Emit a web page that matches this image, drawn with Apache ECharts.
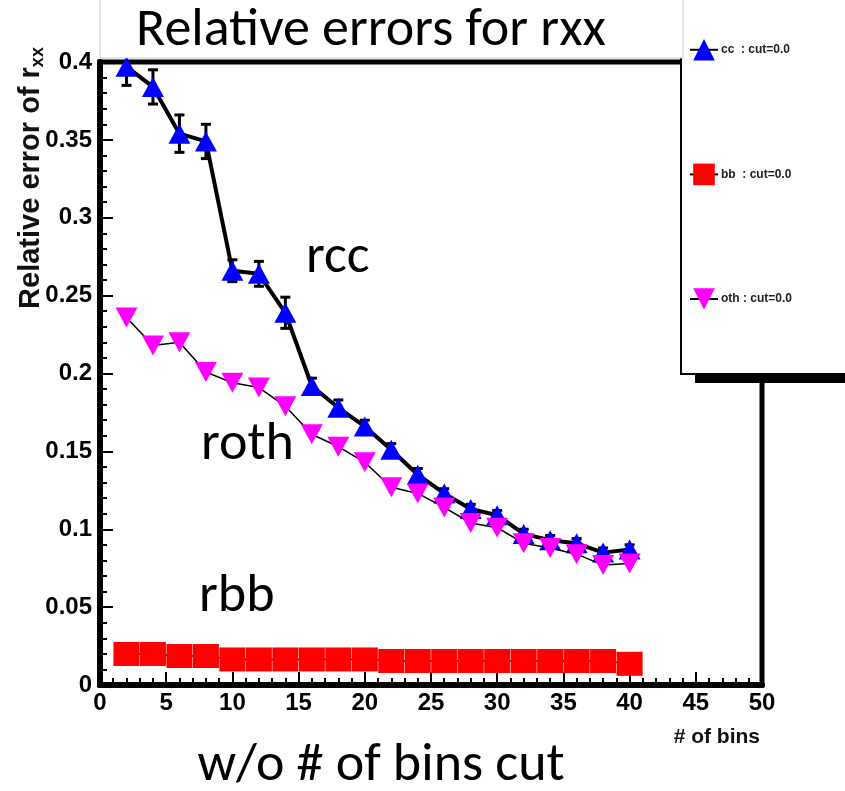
<!DOCTYPE html>
<html>
<head>
<meta charset="utf-8">
<title>Relative errors for rxx</title>
<script src="https://cdn.jsdelivr.net/npm/echarts@6/dist/echarts.min.js"></script>
<style>
  html, body { margin: 0; padding: 0; background: #fff; }
  #chart { width: 845px; height: 791px; }
</style>
</head>
<body>
<div id="chart"></div>
<script>
// number of bins (x) for every point
var bins = [2, 4, 6, 8, 10, 12, 14, 16, 18, 20, 22, 24, 26, 28, 30, 32, 34, 36, 38, 40];

// relative error of r_cc, with its error bar
var ccVals = [0.397, 0.384, 0.354, 0.349, 0.266, 0.264, 0.239, 0.192, 0.178, 0.166,
              0.151, 0.135, 0.123, 0.113, 0.109, 0.097, 0.093, 0.091, 0.085, 0.087];
var ccErrs = [0.012, 0.011, 0.012, 0.011, 0.007, 0.008, 0.010, 0.005, 0.005, 0.004,
              0.004, 0.004, 0.003, 0.003, 0.003, 0.003, 0.003, 0.003, 0.003, 0.003];

// relative error of r_bb
var bbVals = [0.0199, 0.0199, 0.0186, 0.0186, 0.0164, 0.0164, 0.0164, 0.0164, 0.0164, 0.0164,
              0.0154, 0.0154, 0.0154, 0.0154, 0.0154, 0.0154, 0.0154, 0.0154, 0.0154, 0.0136];

// relative error of r_oth
var othVals = [0.236, 0.218, 0.220, 0.201, 0.194, 0.191, 0.179, 0.161, 0.153, 0.143,
               0.127, 0.123, 0.114, 0.104, 0.101, 0.091, 0.088, 0.084, 0.077, 0.078];

var seriesNames = ['cc  : cut=0.0', 'bb  : cut=0.0', 'oth : cut=0.0'];

function pairs(ys) {
  return bins.map(function (x, i) { return [x, ys[i]]; });
}

var chart = echarts.init(document.getElementById('chart'));

var labelFont = {
  color: '#000',
  fontFamily: 'Liberation Sans, Arial, sans-serif',
  fontWeight: 'bold',
  fontSize: 24
};
var slideFont = '54px Carlito, Lato, sans-serif';

chart.setOption({
  animation: false,
  backgroundColor: '#fff',
  grid: {
    left: 100, right: 83, top: 62, bottom: 106,
    show: true,
    borderColor: '#000',
    borderWidth: 5
  },
  legend: {
    data: seriesNames,
    orient: 'vertical',
    left: 684,
    top: 34,
    itemWidth: 28,
    itemHeight: 27,
    itemGap: 103,
    z: 10,
    textStyle: {
      color: '#222',
      fontFamily: 'Liberation Sans, Arial, sans-serif',
      fontWeight: 'bold',
      fontSize: 12,
      padding: [0, 0, 0, -2]
    }
  },
  xAxis: {
    type: 'value',
    min: 0, max: 50, interval: 5,
    axisLine: { lineStyle: { color: '#000', width: 6 } },
    axisTick: { inside: true, length: 13, lineStyle: { color: '#000', width: 2 } },
    minorTick: { show: true, splitNumber: 5, length: 7, lineStyle: { color: '#000', width: 2 } },
    splitLine: { show: false },
    axisLabel: Object.assign({ margin: 6 }, labelFont)
  },
  yAxis: {
    type: 'value',
    min: 0, max: 0.4, interval: 0.05,
    axisLine: { show: true, lineStyle: { color: '#000', width: 6 } },
    axisTick: { show: true, inside: true, length: 13, lineStyle: { color: '#000', width: 2 } },
    minorTick: { show: true, splitNumber: 5, length: 7, lineStyle: { color: '#000', width: 2 } },
    splitLine: { show: false },
    axisLabel: Object.assign({ margin: 8 }, labelFont)
  },
  graphic: [
    // legend box with its shadow
    { type: 'rect', z: 5, shape: { x: 681, y: -5, width: 200, height: 379 },
      style: { fill: '#fff', stroke: '#000', lineWidth: 2 } },
    { type: 'rect', z: 5, shape: { x: 695, y: 375, width: 160, height: 8 },
      style: { fill: '#000' } },
    // title box
    { type: 'rect', z: 5, shape: { x: 100, y: -3, width: 583, height: 61 },
      style: { fill: '#fff', stroke: '#ccc', lineWidth: 1 } },
    { type: 'text', z: 6, x: 371, y: 31,
      style: { text: 'Relative errors for rxx', font: slideFont,
               fill: '#000', textAlign: 'center', textVerticalAlign: 'middle' } },
    { type: 'text', z: 6, x: 381, y: 766,
      style: { text: 'w/o # of bins cut', font: slideFont,
               fill: '#000', textAlign: 'center', textVerticalAlign: 'middle' } },
    { type: 'text', z: 6, x: 306, y: 258,
      style: { text: 'rcc', font: slideFont, fill: '#000', textVerticalAlign: 'middle' } },
    { type: 'text', z: 6, x: 201, y: 445,
      style: { text: 'roth', font: slideFont, fill: '#000', textVerticalAlign: 'middle' } },
    { type: 'text', z: 6, x: 199, y: 597,
      style: { text: 'rbb', font: slideFont, fill: '#000', textVerticalAlign: 'middle' } },
    // axis titles
    { type: 'text', z: 6, x: 760, y: 737,
      style: { text: '# of bins', font: 'bold 21px Liberation Sans, Arial, sans-serif',
               fill: '#111', textAlign: 'right', textVerticalAlign: 'middle' } },
    { type: 'text', z: 6, x: 31, y: 178, rotation: Math.PI / 2,
      style: {
        text: 'Relative error of r{s|xx}',
        font: 'bold 29px Liberation Sans, Arial, sans-serif',
        fill: '#111', textAlign: 'center', textVerticalAlign: 'middle',
        rich: { s: { font: 'bold 18px Liberation Sans, Arial, sans-serif', fill: '#111', padding: [14, 0, 0, 0] } }
      } }
  ],
  series: [
    {
      name: 'ccErr',
      type: 'custom',
      z: 1,
      data: bins.map(function (x, i) { return [x, ccVals[i], ccErrs[i]]; }),
      renderItem: function (params, api) {
        var x = api.value(0), y = api.value(1), e = api.value(2);
        var top = api.coord([x, y + e]);
        var bot = api.coord([x, y - e]);
        var st = { stroke: '#000', lineWidth: 3 };
        return {
          type: 'group',
          children: [
            { type: 'line', shape: { x1: top[0], y1: top[1], x2: bot[0], y2: bot[1] }, style: st },
            { type: 'line', shape: { x1: top[0] - 5, y1: top[1], x2: top[0] + 5, y2: top[1] }, style: st },
            { type: 'line', shape: { x1: bot[0] - 5, y1: bot[1], x2: bot[0] + 5, y2: bot[1] }, style: st }
          ]
        };
      }
    },
    {
      name: seriesNames[0],
      type: 'line',
      z: 2,
      data: pairs(ccVals),
      symbol: 'triangle',
      symbolSize: [22, 20],
      lineStyle: { color: '#000', width: 4 },
      itemStyle: { color: '#0000ff' }
    },
    {
      name: seriesNames[1],
      type: 'line',
      z: 2,
      data: pairs(bbVals),
      symbol: 'rect',
      symbolSize: [26, 24],
      lineStyle: { color: '#000', width: 1.5 },
      itemStyle: { color: '#ff0000' }
    },
    {
      name: seriesNames[2],
      type: 'line',
      z: 3,
      data: pairs(othVals),
      symbol: 'path://M0,0L22,0L11,20Z',
      symbolSize: [22, 20],
      lineStyle: { color: '#000', width: 1.5 },
      itemStyle: { color: '#ff00ff' }
    }
  ]
});
</script>
</body>
</html>
